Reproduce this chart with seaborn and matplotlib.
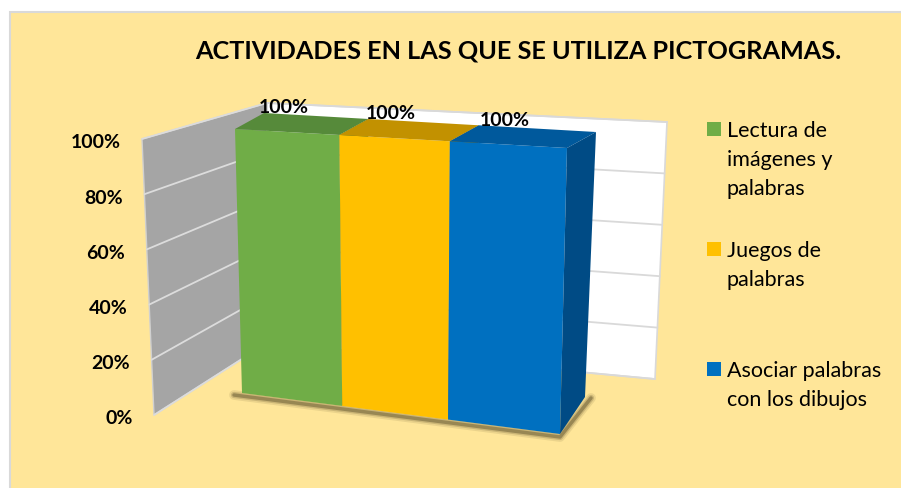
import textwrap

import matplotlib

matplotlib.use("Agg")
import matplotlib.pyplot as plt  # noqa: E402
import matplotlib.transforms as mtransforms  # noqa: E402
import numpy as np  # noqa: E402
import seaborn as sns  # noqa: E402
from matplotlib.patches import Polygon, Rectangle  # noqa: E402

title = "ACTIVIDADES EN LAS QUE SE UTILIZA PICTOGRAMAS."
categories = [
    "Lectura de imágenes y palabras",
    "Juegos de palabras",
    "Asociar palabras con los dibujos",
]
values = [100, 100, 100]
y_ticks = [0, 20, 40, 60, 80, 100]

front_colors = ["#70AD47", "#FFC000", "#0070C0"]
top_colors = ["#568A3A", "#C29100", "#00599C"]
side_colors = ["#4A7730", "#A67C00", "#004B85"]

W, H = 901, 489

# frame of the 3D scene, image pixels (y down)
front_quad = {"bl": (242, 394), "tl": (235, 130), "tr": (567, 149), "br": (560, 435)}
wall_ft, wall_fb = (142, 140), (154, 416)
wall_bt, wall_bb = (267, 104), (267, 344)
wall_rt, wall_rb = (667, 123), (655, 380)
depth_top = np.array([29.0, 16.0])      # display px, at full height
depth_bottom = np.array([25.0, 37.0])   # display px, at the floor


class Perspective(mtransforms.Transform):
    """Plane homography in display space, from 4 point pairs."""

    input_dims = output_dims = 2

    def __init__(self, src, dst):
        super().__init__()
        rows, rhs = [], []
        for (x, y), (u, v) in zip(src, dst):
            rows.append([x, y, 1, 0, 0, 0, -u * x, -u * y])
            rhs.append(u)
            rows.append([0, 0, 0, x, y, 1, -v * x, -v * y])
            rhs.append(v)
        h = np.linalg.solve(np.array(rows, float), np.array(rhs, float))
        self.m = np.append(h, 1.0).reshape(3, 3)

    def transform_non_affine(self, values):
        values = np.asarray(values, float)
        p = np.column_stack([values, np.ones(len(values))]) @ self.m.T
        return p[:, :2] / p[:, 2:]


def lerp(a, b, t):
    return np.asarray(a, float) + t * (np.asarray(b, float) - np.asarray(a, float))


sns.set_theme(style="white")
plt.rcParams["font.family"] = ["Lato", "DejaVu Sans"]

fig = plt.figure(figsize=(W / 100, H / 100), dpi=100, facecolor="white")

scene = fig.add_axes([0, 0, 1, 1])
scene.set_xlim(0, W)
scene.set_ylim(H, 0)
scene.set_axis_off()
scene.add_patch(Rectangle((10, 13), W, H, facecolor="#FFE699", edgecolor="#D9D9D9", lw=1.5))

# walls
scene.add_patch(Polygon([wall_fb, wall_ft, wall_bt, wall_bb], fc="#A5A5A5", ec="#D0D0D0", lw=1))
scene.add_patch(Polygon([wall_bb, wall_bt, wall_rt, wall_rb], fc="white", ec="#D9D9D9", lw=1.2))
for t in y_ticks:
    f = lerp(wall_fb, wall_ft, t / y_ticks[-1])
    b = lerp(wall_bb, wall_bt, t / y_ticks[-1])
    r = lerp(wall_rb, wall_rt, t / y_ticks[-1])
    scene.plot([f[0], b[0]], [f[1], b[1]], color="#DCDCDC", lw=1.3)
    scene.plot([b[0], r[0]], [b[1], r[1]], color="#D9D9D9", lw=1.3)
    scene.text(f[0] - 21.5, f[1] + 8.5, f"{t}%", ha="right", va="baseline",
               fontsize=14, fontweight="bold", color="black")

scene.text(518, 58, title, ha="center", va="baseline", fontsize=18.2,
           fontweight="bold", color="black")

# legend
for i, (name, color) in enumerate(zip(categories, front_colors)):
    y0 = 137 + 120 * i
    scene.add_patch(Rectangle((707, y0 - 14), 14, 14, fc=color, ec="none"))
    for j, line in enumerate(textwrap.wrap(name, 16)):
        scene.text(727, y0 + 29 * j, line, fontsize=15.5, va="baseline", color="black")

# bars
ax = fig.add_axes([0.27, 0.15, 0.36, 0.57])
sns.barplot(x=categories, y=values, hue=categories, palette=front_colors, width=1.0,
            saturation=1, legend=False, errorbar=None, edgecolor="none", linewidth=0, ax=ax)
ax.set_xlim(-0.5, len(categories) - 0.5)
ax.set_ylim(0, y_ticks[-1])
ax.set_axis_off()
ax.patch.set_visible(False)

src = ax.transAxes.transform([(0, 0), (0, 1), (1, 1), (1, 0)])
dst = [(x, H - y) for x, y in (front_quad[k] for k in ("bl", "tl", "tr", "br"))]
persp = ax.transData + Perspective(src, dst)
ident = mtransforms.IdentityTransform()

bars = sorted(ax.patches, key=lambda p: p.get_x())
for i, (bar, tc, sc) in enumerate(zip(bars, top_colors, side_colors)):
    bar.set_transform(persp)
    bar.set_clip_on(False)
    bar.set_zorder(2 + 3 * i)
    x0, x1, h = bar.get_x(), bar.get_x() + bar.get_width(), bar.get_height()
    bl, tl, tr, br = persp.transform([(x0, 0), (x0, h), (x1, h), (x1, 0)])
    dh = depth_bottom + (depth_top - depth_bottom) * h / y_ticks[-1]
    ax.add_patch(Polygon([tl, tr, tr + dh, tl + dh], fc=tc, ec="none", transform=ident,
                         clip_on=False, zorder=3 + 3 * i))
    ax.add_patch(Polygon([br, tr, tr + dh, br + depth_bottom], fc=sc, ec="none",
                         transform=ident, clip_on=False, zorder=4 + 3 * i))
    ax.text((x0 + x1) / 2, h, f"{values[i]:.0f}%", ha="center", va="baseline",
            fontsize=14, fontweight="bold", color="black", zorder=20,
            transform=mtransforms.offset_copy(persp, fig=fig, x=-3, y=20, units="dots"))

# soft shadow along the floor edge
first_bl = persp.transform([(bars[0].get_x(), 0)])[0]
last_br = persp.transform([(bars[-1].get_x() + bars[-1].get_width(), 0)])[0]
sx = [first_bl[0] - 8, last_br[0], last_br[0] + depth_bottom[0] + 6]
sy = [first_bl[1] - 2, last_br[1] - 3, last_br[1] + depth_bottom[1] - 1]
for lw, a in [(7, 0.10), (4.5, 0.18), (2.5, 0.35)]:
    ax.plot(sx, sy, color="#3B3215", lw=lw, alpha=a, transform=ident, clip_on=False,
            zorder=1.5, solid_capstyle="round")

fig.savefig("out.png", dpi=100)
